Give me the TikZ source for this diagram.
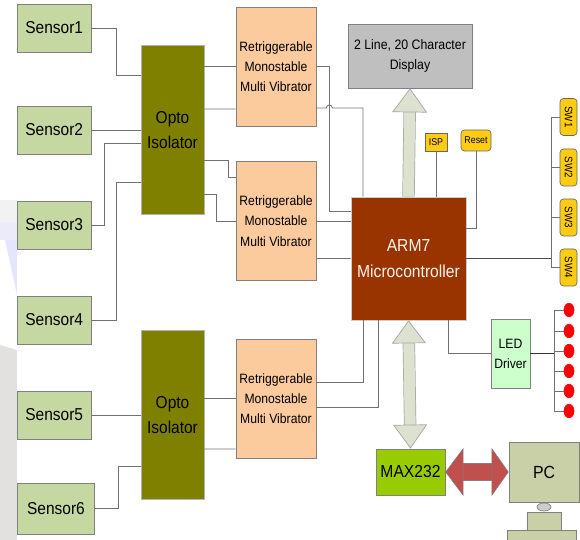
\documentclass[tikz,border=0pt]{standalone}
\usepackage{fontspec}
\setmainfont[FakeStretch=0.9]{Liberation Sans}
\usetikzlibrary{arrows.meta,positioning,calc,shapes.geometric}
\definecolor{sensorfill}{HTML}{C6D8A2}
\definecolor{wirecol}{HTML}{707070}
\definecolor{optofill}{HTML}{808000}
\definecolor{trigfill}{HTML}{FBCB9E}
\definecolor{armfill}{HTML}{993300}
\definecolor{busfill}{HTML}{DDE1CF}
\definecolor{maxfill}{HTML}{99CC00}
\definecolor{pcfill}{HTML}{C9CFA6}
\definecolor{swfill}{HTML}{FFCC11}
\definecolor{linkfill}{HTML}{C0504D}
\begin{document}
\begin{tikzpicture}[
 sensor/.style={draw=gray,fill=sensorfill,minimum width=1.47cm,minimum height=0.96cm,font=\fontsize{9.8}{11}\selectfont},
 opto/.style={draw=black!30,fill=optofill,minimum width=1.26cm,minimum height=3.38cm,align=center,font=\fontsize{9.8}{14.5}\selectfont},
 trig/.style={draw=gray,fill=trigfill,minimum width=1.6cm,minimum height=2.38cm,align=center,inner sep=0pt,font=\fontsize{7.7}{11.5}\selectfont},
 swbox/.style={draw=gray!80!black,fill=swfill,minimum width=0.74cm,minimum height=0.34cm,rotate=-90,rounded corners=2pt,inner sep=0pt,font=\fontsize{6.2}{7}\selectfont},
 ledlamp/.style={ellipse,fill=red,draw=red,inner sep=0pt,minimum width=0.2cm,minimum height=0.27cm},
 wire/.style={draw=wirecol,line width=0.5pt},
 greybus/.style={draw=gray!70,double=busfill,double distance=0.22cm,line width=0.4pt},
]
\useasboundingbox (0,0) rectangle (11.6,10.8);
% faint patches down the left edge
\fill[black!5] (0,6.8) rectangle (0.34,6.36);
\fill[black!22!blue!8!white] (0,6.36) rectangle (0.34,6);
\fill[blue!10!white] (0.1,6) -- (0.34,6) -- (0.34,4.9) -- cycle;
\fill[red!8!black!12!white] (0,3.9) -- (0.34,3.8) -- (0.34,0) -- (0,0) -- cycle;
% sensors
\node[sensor] (sa) at (1.085,10.24) {Sensor1};
\node[sensor] (sb) at (1.085,8.2) {Sensor2};
\node[sensor] (sc) at (1.085,6.3) {Sensor3};
\node[sensor] (sd) at (1.085,4.4) {Sensor4};
\node[sensor] (se) at (1.085,2.5) {Sensor5};
\node[sensor,minimum width=1.54cm,minimum height=1.02cm] (sf) at (1.12,0.63) {Sensor6};
% isolators and vibrators
\node[opto] (oa) at (3.45,8.2) {Opto\\Isolator};
\node[opto] (ob) at (3.45,2.5) {Opto\\Isolator};
\node[trig] (ra) at (5.52,9.47) {Retriggerable\\Monostable\\Multi Vibrator};
\node[trig] (rb) at (5.52,6.38) {Retriggerable\\Monostable\\Multi Vibrator};
\node[trig] (rc) at (5.52,2.83) {Retriggerable\\Monostable\\Multi Vibrator};
% controller and what hangs on it
\node[fill=armfill,draw=black!20,text=white!92!orange,minimum width=2.3cm,minimum height=2.46cm,align=center,inner sep=0pt,font=\fontsize{9.9}{15}\selectfont] (arm) at (8.17,5.63) {ARM7\\Microcontroller};
\node[draw=gray,fill=gray!50,minimum width=2.48cm,minimum height=1.28cm,align=center,inner sep=0pt,font=\fontsize{7.8}{11.8}\selectfont] (disp) at (8.2,9.68) {2 Line, 20 Character\\Display};
\node[draw=gray!80!black,fill=swfill,minimum width=0.44cm,minimum height=0.36cm,inner sep=0pt,font=\fontsize{5.6}{6}\selectfont] (isp) at (8.72,7.96) {ISP};
\node[draw=gray!80!black,fill=swfill,rounded corners=2pt,minimum width=0.6cm,minimum height=0.42cm,inner sep=0pt,font=\fontsize{5.6}{6}\selectfont] (rst) at (9.52,7.99) {Reset};
\node[swbox] (swa) at (11.37,8.46) {SW1};
\node[swbox] (swb) at (11.37,7.45) {SW2};
\node[swbox] (swc) at (11.37,6.45) {SW3};
\node[swbox] (swd) at (11.37,5.45) {SW4};
\node[draw=gray,fill=green!20!white,minimum width=0.78cm,minimum height=1.38cm,align=center,inner sep=0pt,font=\fontsize{7.7}{11.3}\selectfont] (ld) at (10.21,3.73) {LED\\Driver};
\foreach \p/\y in {la/4.6,lb/4.18,lc/3.78,lf/3.38,lg/2.98,lh/2.58} \node[ledlamp] (\p) at (11.38,\y) {};
\node[draw=gray,fill=maxfill,minimum width=1.38cm,minimum height=0.92cm,inner sep=0pt,font=\fontsize{9.9}{11}\selectfont] (mx) at (8.21,1.36) {MAX232};
\node[draw=gray,fill=pcfill,minimum width=1.4cm,minimum height=1.2cm,font=\fontsize{10}{11}\selectfont] (pc) at (10.88,1.36) {PC};
\node[ellipse,draw=gray,fill=gray!40,minimum width=0.28cm,minimum height=0.16cm,inner sep=0pt] (nk) at (10.88,0.66) {};
\node[draw=gray,fill=pcfill,minimum width=0.68cm,minimum height=0.36cm,inner sep=0pt] (mn) at (10.88,0.38) {};
\node[draw=gray,fill=pcfill,minimum width=1.38cm,minimum height=0.2cm,inner sep=0pt] (bs) at (10.83,0.1) {};
% wires on the left
\draw[wire] (sa.east) -- ++(0.5,0) |- ([yshift=1.09cm]oa.west);
\draw[wire] (sb.east) -- (oa.west);
\draw[wire] (sc.east) -- ++(0.26,0) |- ([yshift=-0.26cm]oa.west);
\draw[wire] (sd.east) -- ++(0.5,0) |- ([yshift=-1.05cm]oa.west);
\draw[wire] (se.east) -- (ob.west);
\draw[wire] (sf.east) -- ++(0.48,0) |- ([yshift=-1.02cm]ob.west);
\draw[wire] (oa.east |- ra.west) -- (ra.west);
\draw[wire] ([yshift=0.42cm]oa.east) -- ([yshift=-0.85cm]ra.west);
\draw[wire] ([yshift=-0.6cm]oa.east) -- ++(0.48,0) |- ([yshift=0.88cm]rb.west);
\draw[wire] ([yshift=-1.28cm]oa.east) -- ++(0.24,0) |- (rb.west);
\draw[wire] (ob.east |- rc.west) -- (rc.west);
\draw[wire] ([yshift=-0.68cm]ob.east) -- ([yshift=-1.01cm]rc.west);
% wires into the controller
\draw[wire] (ra.east) -- ++(0.26,0) |- ([yshift=0.95cm]arm.west);
\draw[wire] ([yshift=-0.83cm]ra.east) -- ++(0.2,0) arc[start angle=180,end angle=0,radius=0.06] -| ([xshift=-0.91cm]arm.north);
\draw[wire] (rb.east) -- (rb.east -| arm.west);
\draw[wire] ([yshift=-0.75cm]rb.east) -- (arm.west);
\draw[wire] ([yshift=0.33cm]rc.east) -| ([xshift=-0.91cm]arm.south);
\draw[wire] ([yshift=-0.17cm]rc.east) -| ([xshift=-0.61cm]arm.south);
\draw[wire] (isp.south) -- (isp.south |- arm.north);
\draw[wire] (rst.south) |- ([yshift=0.61cm]arm.east);
\draw[wire] ([xshift=0.79cm]arm.south) |- (ld.west);
% switch and lamp buses
\coordinate (swj) at (11.02,5.63);
\coordinate (ledj) at (11.08,3.73);
\draw[line width=0.8pt,black!70] (arm.east) -- (swj);
\foreach \p in {swa,swb,swc,swd} \draw[wire] (\p.south) -| (swj);
\draw[line width=0.8pt,black!80] (ld.east) -- (ledj);
\foreach \p in {la,lb,lc,lf,lg,lh} \draw[wire] (\p.west) -| (ledj);
% block arrows
\draw[greybus,-{Triangle[length=0.48cm,width=0.7cm,fill=busfill,color=gray!70]}] (arm.north) -- (disp.south);
\draw[greybus,{Triangle[length=0.46cm,width=0.68cm,fill=busfill,color=gray!70]}-{Triangle[length=0.48cm,width=0.68cm,fill=busfill,color=gray!70]}] (arm.south) -- (mx.north);
\draw[draw=gray,double=linkfill,double distance=0.32cm,line width=0.3pt,{Triangle[length=0.36cm,width=0.96cm,fill=linkfill,color=gray]}-{Triangle[length=0.34cm,width=0.96cm,fill=linkfill,color=gray]}] (mx.east) -- (pc.west);
\end{tikzpicture}
\end{document}
